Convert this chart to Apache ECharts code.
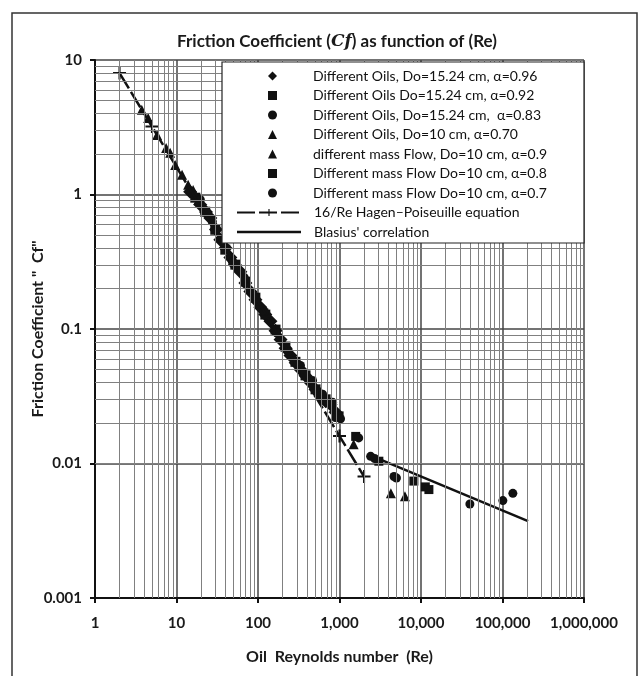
<!DOCTYPE html>
<html><head><meta charset="utf-8">
<script src="https://cdn.jsdelivr.net/npm/echarts@6/dist/echarts.min.js"></script>
<style>html,body{margin:0;padding:0;background:#fff}#c{width:642px;height:676px}</style>
</head><body><div id="c"></div>
<script>
// ---- tick labels ----
const xTickLabels = ['1','10','100','1,000','10,000','100,000','1,000,000'];
const yTickLabels = ['0.001','0.01','0.1','1','10'];
const minorMultipliers = [2,3,4,5,6,7,8,9];
const xDecades = [1,10,100,1000,10000,100000];
const yDecades = [0.001,0.01,0.1,1];

// ---- series data (Re, Cf) ----
const oils096Re = [14.7, 19.6, 23.0, 26.0, 30.5, 34.5, 40.0, 45.8, 52.0, 60.7, 70.0, 80.6, 93.0, 107, 123, 142, 164, 189, 218, 250, 290, 332, 383, 441, 508, 585, 677, 777, 895];
const oils096Cf = [1.05, 0.839, 0.74, 0.67, 0.55, 0.461, 0.40, 0.34, 0.30, 0.267, 0.22, 0.19, 0.165, 0.145, 0.128, 0.114, 0.097, 0.0836, 0.072, 0.0636, 0.056, 0.050, 0.045, 0.040, 0.0355, 0.0316, 0.029, 0.0275, 0.024];

const oils092Re = [17.0, 22.5, 29.9, 39.7, 52.7, 70.0, 92.9, 123, 164, 217, 288, 383, 508, 675, 975];
const oils092Cf = [0.947, 0.745, 0.547, 0.389, 0.301, 0.225, 0.171, 0.128, 0.099, 0.074, 0.057, 0.0452, 0.0356, 0.030, 0.0224];

const oils083Re = [19.6, 27.5, 36.5, 48.4, 68, 90.3, 120, 168, 237, 332, 467, 620, 822, 2410, 39800, 101000, 134000];
const oils083Cf = [0.914, 0.628, 0.446, 0.317, 0.241, 0.176, 0.135, 0.094, 0.068, 0.0536, 0.0414, 0.0327, 0.0285, 0.0113, 0.0050, 0.0053, 0.0060];

const oils070Re = [3.75, 4.49, 5.78, 7.46, 8.36, 9.64, 11.7, 13.9, 16, 18.5];
const oils070Cf = [4.26, 3.71, 2.77, 2.22, 2.04, 1.66, 1.40, 1.18, 1.08, 0.91];

const mass09Re = [1490, 4270, 6350];
const mass09Cf = [0.0139, 0.0060, 0.0057];

const mass08Re = [1580, 3040, 8170, 11300, 12500];
const mass08Cf = [0.0159, 0.0104, 0.0074, 0.0067, 0.0064];

const mass07Re = [893, 1030, 1720, 2700, 4660, 5000];
const mass07Cf = [0.022, 0.0215, 0.0155, 0.0109, 0.0080, 0.0078];

const hagenRe = [2, 5, 1000, 2000];
const hagenCf = [8, 3.2, 0.016, 0.008];

const blasiusRe = [3300, 206000];
const blasiusCf = [0.0106, 0.00373];

const names = [
  'Different Oils, Do=15.24 cm, \u03b1=0.96',
  'Different Oils Do=15.24 cm, \u03b1=0.92',
  'Different Oils, Do=15.24 cm,  \u03b1=0.83',
  'Different Oils, Do=10 cm, \u03b1=0.70',
  'different mass Flow, Do=10 cm, \u03b1=0.9',
  'Different mass Flow Do=10 cm, \u03b1=0.8',
  'Different mass Flow Do=10 cm, \u03b1=0.7',
  '16/Re Hagen\u2013Poiseuille equation',
  "Blasius' correlation"
];

const zip = (a, b) => a.map((v, i) => [v, b[i]]);
const FONT = 'Lato, "Liberation Sans", sans-serif';
const plus = 'path://M0,4.2 L10,4.2 L10,5.8 L0,5.8 Z M4.2,0 L5.8,0 L5.8,10 L4.2,10 Z';

function scatter(name, re, cf, symbol, size) {
  return {
    name, type: 'scatter', data: zip(re, cf), symbol, symbolSize: size,
    itemStyle: { color: '#111', opacity: 1 }, z: 3
  };
}

const gridLines = [];
xDecades.forEach(d => minorMultipliers.forEach(m => gridLines.push({ xAxis: d * m })));
yDecades.forEach(d => minorMultipliers.forEach(m => gridLines.push({ yAxis: d * m })));

const legendText = { fontFamily: FONT, fontSize: 14, color: '#111', lineHeight: 14 };

const chart = echarts.init(document.getElementById('c'), null, { renderer: 'canvas' });
chart.setOption({
  backgroundColor: '#fff',
  animation: false,
  title: {
    text: '{a|Friction Coefficient (}{i|Cf}{a|) as function of (Re)}',
    left: 332, top: 28, textAlign: 'center',
    textStyle: {
      rich: {
        a: { fontFamily: FONT, fontSize: 17, fontWeight: 'bold', color: '#1a1a1a' },
        i: { fontFamily: '"DejaVu Serif", serif', fontStyle: 'italic', fontSize: 17, color: '#1a1a1a' }
      }
    }
  },
  graphic: [
    { type: 'rect', shape: { x: 12, y: 13, width: 625, height: 670 }, style: { fill: 'none', stroke: '#333', lineWidth: 1.5 }, z: 0 },
    { type: 'rect', zlevel: 1, shape: { x: 222, y: 62, width: 362, height: 181 }, style: { fill: '#fff', stroke: '#222', lineWidth: 1.2 }, z: 1 }
  ],
  legend: [
    {
      data: names.slice(0, 7),
      orient: 'vertical', left: 268, top: 69, padding: 0,
      itemWidth: 9, itemHeight: 9, itemGap: 5.5,
      zlevel: 1, z: 6, selectedMode: false,
      textStyle: Object.assign({ padding: [0, 0, 0, 31] }, legendText)
    },
    {
      data: [names[7], { name: names[8], icon: 'path://M0,0 L64,0 L64,2.5 L0,2.5 Z' }],
      orient: 'vertical', left: 236, top: 205.5, padding: 0,
      itemWidth: 64, itemHeight: 9, itemGap: 5.5,
      zlevel: 1, z: 6, selectedMode: false,
      textStyle: Object.assign({ padding: [0, 0, 0, 8] }, legendText)
    }
  ],
  grid: { left: 95, right: 58, top: 60, bottom: 78, containLabel: false },
  xAxis: {
    type: 'log', logBase: 10, min: 1, max: 1000000,
    name: 'Oil  Reynolds number  (Re)', nameLocation: 'middle', nameGap: 51, nameMoveOverlap: false,
    nameTextStyle: { fontFamily: FONT, fontSize: 16, fontWeight: 'bold', color: '#1a1a1a' },
    axisLine: { show: true, lineStyle: { color: '#111', width: 2 } },
    axisTick: { show: true, length: 5, lineStyle: { color: '#111', width: 2 } },
    axisLabel: {
      margin: 18, fontFamily: FONT, fontSize: 15, fontWeight: 'bold', color: '#1a1a1a',
      formatter: v => xTickLabels[Math.round(Math.log10(v))]
    },
    splitLine: { show: true, lineStyle: { color: '#444', width: 1.5 } }
  },
  yAxis: {
    type: 'log', logBase: 10, min: 0.001, max: 10,
    name: 'Friction Coefficient "  Cf"', nameLocation: 'middle', nameGap: 49, nameMoveOverlap: false,
    nameTextStyle: { fontFamily: FONT, fontSize: 16, fontWeight: 'bold', color: '#1a1a1a' },
    axisLine: { show: true, lineStyle: { color: '#111', width: 2 } },
    axisTick: { show: true, length: 5, lineStyle: { color: '#111', width: 2 } },
    axisLabel: {
      margin: 13, fontFamily: FONT, fontSize: 15, fontWeight: 'bold', color: '#1a1a1a',
      formatter: v => yTickLabels[Math.round(Math.log10(v)) + 3]
    },
    splitLine: { show: true, lineStyle: { color: '#444', width: 1.5 } }
  },
  series: [
    {
      name: 'gridMinor', type: 'line', data: [], silent: true, z: 1,
      markLine: {
        silent: true, symbol: 'none', animation: false,
        label: { show: false },
        lineStyle: { color: '#808080', width: 1, type: 'solid' },
        emphasis: { disabled: true },
        data: gridLines
      }
    },
    scatter(names[0], oils096Re, oils096Cf, 'diamond', 14),
    scatter(names[1], oils092Re, oils092Cf, 'rect', 10),
    scatter(names[2], oils083Re, oils083Cf, 'circle', 9),
    scatter(names[3], oils070Re, oils070Cf, 'triangle', 10),
    scatter(names[4], mass09Re, mass09Cf, 'triangle', 10),
    scatter(names[5], mass08Re, mass08Cf, 'rect', 9),
    scatter(names[6], mass07Re, mass07Cf, 'circle', 9),
    {
      name: names[7], type: 'line', data: zip(hagenRe, hagenCf),
      symbol: plus, symbolSize: 13, showSymbol: true, z: 4,
      itemStyle: { color: '#111' },
      lineStyle: { color: '#111', width: 2.5, type: [18, 4] }
    },
    {
      name: names[8], type: 'line', data: zip(blasiusRe, blasiusCf),
      symbol: 'none', z: 4,
      itemStyle: { color: '#111' },
      lineStyle: { color: '#111', width: 2.5 }
    }
  ]
});
</script>
</body></html>
